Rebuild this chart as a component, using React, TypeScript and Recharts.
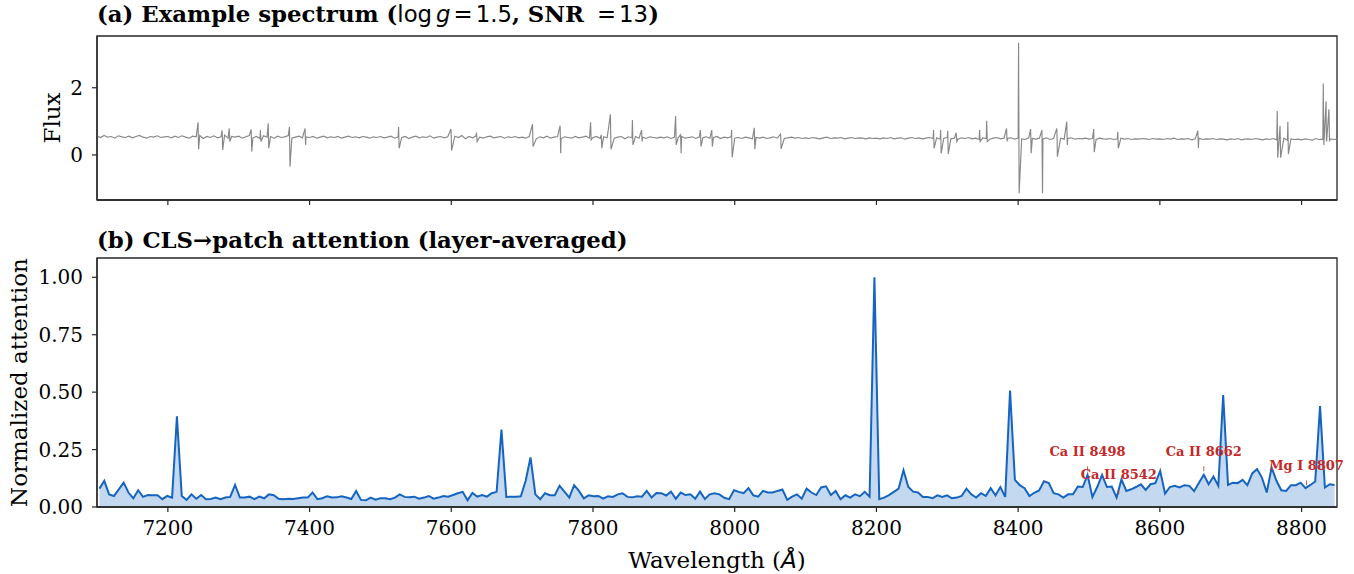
import React from "react";
import {
  LineChart,
  Line,
  AreaChart,
  Area,
  XAxis,
  YAxis,
  ReferenceArea,
  ReferenceDot,
} from "recharts";

const WAVE_MIN = 7100;
const WAVE_MAX = 8850;
const WAVE_TICKS = [7200, 7400, 7600, 7800, 8000, 8200, 8400, 8600, 8800];

// (a) flux, one sample every 5 Å from 7100
const FLUX_STEP = 5;
const FLUX = [
  0.56, 0.52, 0.58, 0.53, 0.55, 0.5, 0.57, 0.54, 0.52, 0.56, 0.51, 0.55, 0.58, 0.53, 0.5, 0.55, 0.53, 0.57, 0.52, 0.54,
  0.55, 0.51, 0.56, 0.52, 0.57, 0.53, 0.5, 0.56, 0.54, 0.58, 0.49, 0.55, 0.52, 0.57, 0.51, 0.54, 0.59, 0.5, 0.55, 0.53,
  0.56, 0.5, 0.54, 0.58, 0.51, 0.55, 0.49, 0.57, 0.53, 0.55, 0.5, 0.56, 0.52, 0.54, 0.58, 0.5, 0.53, 0.56, 0.51, 0.54,
  0.52, 0.55, 0.5, 0.53, 0.56, 0.51, 0.54, 0.52, 0.55, 0.5, 0.53, 0.56, 0.52, 0.54, 0.51, 0.55, 0.53, 0.5, 0.54, 0.52,
  0.55, 0.51, 0.53, 0.56, 0.5, 0.54, 0.52, 0.55, 0.49, 0.53, 0.56, 0.51, 0.54, 0.52, 0.57, 0.5, 0.53, 0.55, 0.51, 0.54,
  0.5, 0.56, 0.52, 0.58, 0.48, 0.55, 0.51, 0.57, 0.53, 0.5, 0.54, 0.56, 0.51, 0.53, 0.55, 0.5, 0.54, 0.52, 0.55, 0.51,
  0.53, 0.5, 0.55, 0.52, 0.48, 0.54, 0.51, 0.56, 0.5, 0.53, 0.55, 0.49, 0.54, 0.52, 0.5, 0.55, 0.51, 0.53, 0.56, 0.5,
  0.52, 0.55, 0.49, 0.54, 0.51, 0.56, 0.5, 0.53, 0.55, 0.48, 0.54, 0.51, 0.55, 0.5, 0.53, 0.49, 0.54, 0.52, 0.5, 0.53,
  0.51, 0.54, 0.49, 0.53, 0.51, 0.55, 0.5, 0.52, 0.54, 0.49, 0.53, 0.51, 0.54, 0.5, 0.52, 0.55, 0.49, 0.53, 0.51, 0.54,
  0.5, 0.52, 0.49, 0.53, 0.51, 0.48, 0.52, 0.5, 0.53, 0.49, 0.51, 0.54, 0.5, 0.52, 0.49, 0.51, 0.53, 0.5, 0.52, 0.49,
  0.51, 0.49, 0.52, 0.5, 0.48, 0.51, 0.53, 0.49, 0.51, 0.5, 0.52, 0.48, 0.5, 0.52, 0.49, 0.51, 0.5, 0.48, 0.51, 0.49,
  0.5, 0.48, 0.51, 0.49, 0.52, 0.48, 0.5, 0.51, 0.47, 0.5, 0.52, 0.49, 0.51, 0.48, 0.5, 0.52, 0.49, 0.51, 0.47, 0.5,
  0.52, 0.48, 0.5, 0.47, 0.51, 0.49, 0.52, 0.48, 0.5, 0.46, 0.51, 0.49, 0.47, 0.5, 0.52, 0.48, 0.5, 0.49, 0.51, 0.47,
  0.5, 0.48, 0.46, 0.51, 0.49, 0.47, 0.5, 0.48, 0.51, 0.46, 0.49, 0.48, 0.5, 0.47, 0.49, 0.51, 0.47, 0.49, 0.48, 0.5,
  0.47, 0.49, 0.46, 0.5, 0.48, 0.47, 0.49, 0.46, 0.48, 0.5, 0.47, 0.49, 0.46, 0.48, 0.47, 0.49, 0.48, 0.46, 0.49, 0.47,
  0.48, 0.46, 0.49, 0.47, 0.5, 0.46, 0.48, 0.47, 0.49, 0.45, 0.48, 0.5, 0.46, 0.48, 0.47, 0.49, 0.46, 0.48, 0.47, 0.45,
  0.48, 0.46, 0.49, 0.45, 0.47, 0.48, 0.46, 0.49, 0.47, 0.45, 0.48, 0.46, 0.49, 0.45, 0.47, 0.5, 0.44, 0.48, 0.46, 0.47,
  0.45, 0.48, 0.46, 0.44, 0.49, 0.46, 0.47, 0.45, 0.48, 0.46, 0.47,
];

// single-pixel spikes (sky residuals / bad pixels): wavelength, top, bottom
const SPIKE_WAVE = [
  7243, 7277, 7287, 7318, 7331, 7342, 7372, 7394, 7526, 7600, 7636, 7715, 7754, 7797, 7812, 7825,
  7856, 7869, 7917, 7924, 7952, 7968, 7996, 8028, 8065, 8281, 8291, 8301, 8313, 8346, 8356, 8384,
  8401, 8418, 8434, 8455, 8469, 8507, 8541, 8654, 8766, 8770, 8781, 8831, 8835, 8839,
];
const SPIKE_TOP = [
  0.97, 0.73, 0.79, 0.76, 0.74, 0.94, 0.84, 0.79, 0.84, 0.77, 0.67, 0.91, 0.87, 0.97, 0.6, 1.21,
  1.04, 0.74, 1.16, 0.6, 0.74, 0.74, 0.74, 0.81, 0.62, 0.74, 0.74, 0.72, 0.66, 0.74, 1.02, 0.79,
  3.34, 0.77, 0.74, 0.79, 0.99, 0.77, 0.69, 0.72, 1.31, 0.87, 0.99, 2.13, 1.6, 1.36,
];
const SPIKE_BOTTOM = [
  0.17, 0.15, 0.4, 0.1, 0.4, 0.2, -0.35, 0.3, 0.2, 0.13, 0.4, 0.25, 0.05, 0.45, 0.2, 0.17,
  0.3, 0.4, 0.3, 0.05, 0.25, 0.25, -0.07, 0.17, 0.18, 0.2, 0.05, 0.03, 0.4, 0.4, 0.4, 0.4,
  -1.14, 0.05, -1.14, -0.05, 0.3, 0.08, 0.2, 0.2, -0.08, -0.08, 0.03, 0.3, 0.4, 0.4,
];

// (b) layer-averaged CLS attention, 256 patches over the range
const N_PATCH = 256;
const ATTENTION = [
  0.08, 0.114, 0.055, 0.048, 0.077, 0.106, 0.063, 0.038, 0.073, 0.044,
  0.052, 0.051, 0.051, 0.034, 0.048, 0.041, 0.395, 0.048, 0.031, 0.055,
  0.036, 0.052, 0.034, 0.035, 0.041, 0.034, 0.041, 0.044, 0.096, 0.041,
  0.041, 0.045, 0.034, 0.045, 0.038, 0.055, 0.051, 0.036, 0.034, 0.036,
  0.035, 0.038, 0.041, 0.041, 0.063, 0.034, 0.038, 0.047, 0.041, 0.042,
  0.047, 0.041, 0.035, 0.07, 0.031, 0.029, 0.041, 0.032, 0.038, 0.038,
  0.034, 0.041, 0.055, 0.044, 0.042, 0.045, 0.036, 0.041, 0.048, 0.036,
  0.041, 0.048, 0.045, 0.052, 0.06, 0.066, 0.029, 0.061, 0.045, 0.052,
  0.045, 0.06, 0.066, 0.337, 0.044, 0.045, 0.045, 0.047, 0.114, 0.216,
  0.055, 0.034, 0.06, 0.051, 0.051, 0.092, 0.067, 0.041, 0.095, 0.07,
  0.038, 0.051, 0.047, 0.048, 0.036, 0.047, 0.044, 0.055, 0.06, 0.044,
  0.042, 0.047, 0.045, 0.07, 0.041, 0.061, 0.06, 0.05, 0.067, 0.036,
  0.063, 0.052, 0.055, 0.036, 0.067, 0.035, 0.055, 0.06, 0.055, 0.04,
  0.034, 0.073, 0.066, 0.06, 0.082, 0.051, 0.045, 0.07, 0.063, 0.063,
  0.07, 0.076, 0.031, 0.045, 0.055, 0.036, 0.08, 0.063, 0.052, 0.085,
  0.09, 0.052, 0.07, 0.034, 0.051, 0.041, 0.055, 0.047, 0.066, 0.045,
  1.0, 0.034, 0.041, 0.052, 0.066, 0.08, 0.16, 0.087, 0.067, 0.063,
  0.044, 0.044, 0.038, 0.051, 0.044, 0.051, 0.038, 0.041, 0.048, 0.08,
  0.055, 0.041, 0.06, 0.048, 0.082, 0.051, 0.087, 0.044, 0.507, 0.118,
  0.095, 0.082, 0.048, 0.062, 0.072, 0.112, 0.104, 0.06, 0.055, 0.041,
  0.055, 0.055, 0.089, 0.087, 0.14, 0.044, 0.087, 0.14, 0.087, 0.089,
  0.041, 0.12, 0.07, 0.077, 0.087, 0.099, 0.074, 0.099, 0.104, 0.157,
  0.058, 0.087, 0.092, 0.085, 0.095, 0.092, 0.069, 0.106, 0.14, 0.099,
  0.133, 0.092, 0.487, 0.096, 0.106, 0.104, 0.118, 0.095, 0.146, 0.165,
  0.128, 0.063, 0.172, 0.114, 0.073, 0.07, 0.095, 0.095, 0.106, 0.082,
  0.096, 0.111, 0.439, 0.085, 0.099, 0.096,
];
const ATT_TICKS = [0, 0.25, 0.5, 0.75, 1.0];

// marked absorption lines
const LINE_NAMES = ["Ca II 8498", "Ca II 8542", "Ca II 8662", "Mg I 8807"];
const LINE_WAVE = [8498, 8542, 8662, 8807];
const LINE_TEXT_Y = [0.243, 0.142, 0.243, 0.181];

const SERIF = "DejaVu Serif";
const SANS = "DejaVu Sans";
const SPINE = "#262626";
const BLUE = "#1565c0";
const RED = "#c62828";
const FLUX_DOMAIN = [-1.34, 3.54];
const ATT_DOMAIN = [0, 1.084];
const LABEL_SIZE = 23;
const TITLE_SIZE = 22.8;

const spectrum = FLUX.map((f, i) => ({ w: WAVE_MIN + i * FLUX_STEP, f }));
SPIKE_WAVE.forEach((w, i) => {
  spectrum.push({ w: w - 0.4, f: SPIKE_TOP[i] }, { w: w + 0.4, f: SPIKE_BOTTOM[i] });
});
spectrum.sort((a, b) => a.w - b.w);

const patchWidth = (WAVE_MAX - WAVE_MIN) / N_PATCH;
const attention = ATTENTION.map((a, i) => ({ w: WAVE_MIN + (i + 0.5) * patchWidth, a }));

const tickStyle = { fontSize: 20, fontFamily: SERIF, fill: "#000" };

function RotatedLabel({ viewBox, text, baseX }: any) {
  const cy = viewBox.y + viewBox.height / 2;
  return (
    <text
      x={baseX}
      y={cy}
      transform={`rotate(-90 ${baseX} ${cy})`}
      textAnchor="middle"
      fontFamily={SERIF}
      fontSize={LABEL_SIZE}
      fill="#000"
    >
      {text}
    </text>
  );
}

function WaveLabel({ viewBox }: any) {
  return (
    <text
      x={viewBox.x + viewBox.width / 2}
      y={viewBox.y + 61}
      textAnchor="middle"
      fontFamily={SERIF}
      fontSize={LABEL_SIZE}
      fill="#000"
    >
      Wavelength (<tspan fontFamily={SANS} fontStyle="italic">Å</tspan>)
    </text>
  );
}

function LineMark({ cx, cy, text }: any) {
  return (
    <g>
      <text x={cx} y={cy + 5} textAnchor="middle" fontFamily={SERIF} fontWeight="bold" fontSize={13} fill={RED}>
        {text}
      </text>
      <line x1={cx} x2={cx} y1={cy + 15} y2={cy + 20} stroke={RED} strokeWidth={0.8} />
    </g>
  );
}

export default function App() {
  return (
    <div style={{ position: "relative", width: 1354, height: 574, background: "#fff" }}>
      <style>{"body{margin:0}"}</style>

      <div style={{ position: "absolute", left: 0, top: 0 }}>
        <LineChart width={1354} height={215} data={spectrum} margin={{ top: 36, right: 17, bottom: 0, left: 0 }}>
          <XAxis
            dataKey="w"
            type="number"
            domain={[WAVE_MIN, WAVE_MAX]}
            ticks={WAVE_TICKS}
            allowDataOverflow
            height={15}
            tick={() => null}
            tickSize={5}
            tickLine={{ stroke: SPINE, strokeWidth: 1.2 }}
            axisLine={{ stroke: SPINE, strokeWidth: 1.3 }}
          />
          <YAxis
            type="number"
            domain={FLUX_DOMAIN}
            ticks={[0, 2]}
            allowDataOverflow
            width={97}
            tick={tickStyle}
            tickSize={5}
            tickMargin={9}
            tickLine={{ stroke: SPINE, strokeWidth: 1.2 }}
            axisLine={{ stroke: SPINE, strokeWidth: 1.3 }}
            label={(p: any) => <RotatedLabel viewBox={p.viewBox} text="Flux" baseX={60} />}
          />
          <Line
            type="linear"
            dataKey="f"
            stroke="#888888"
            strokeWidth={1.15}
            dot={false}
            isAnimationActive={false}
          />
          <ReferenceArea
            x1={WAVE_MIN}
            x2={WAVE_MAX}
            y1={FLUX_DOMAIN[0]}
            y2={FLUX_DOMAIN[1]}
            fill="none"
            stroke={SPINE}
            strokeWidth={1.3}
            ifOverflow="visible"
          />
        </LineChart>
      </div>

      <div style={{ position: "absolute", left: 0, top: 215 }}>
        <AreaChart width={1354} height={359} data={attention} margin={{ top: 43, right: 17, bottom: 0, left: 0 }}>
          <XAxis
            dataKey="w"
            type="number"
            domain={[WAVE_MIN, WAVE_MAX]}
            ticks={WAVE_TICKS}
            allowDataOverflow
            height={67}
            tick={tickStyle}
            tickSize={5}
            tickMargin={9}
            tickLine={{ stroke: SPINE, strokeWidth: 1.2 }}
            axisLine={{ stroke: SPINE, strokeWidth: 1.3 }}
            label={(p: any) => <WaveLabel viewBox={p.viewBox} />}
          />
          <YAxis
            type="number"
            domain={ATT_DOMAIN}
            ticks={ATT_TICKS}
            allowDataOverflow
            width={97}
            tick={tickStyle}
            tickFormatter={(v: number) => v.toFixed(2)}
            tickSize={5}
            tickMargin={9}
            tickLine={{ stroke: SPINE, strokeWidth: 1.2 }}
            axisLine={{ stroke: SPINE, strokeWidth: 1.3 }}
            label={(p: any) => <RotatedLabel viewBox={p.viewBox} text="Normalized attention" baseX={26.5} />}
          />
          <Area
            type="linear"
            dataKey="a"
            stroke={BLUE}
            strokeWidth={2}
            fill={BLUE}
            fillOpacity={0.25}
            baseValue={0}
            dot={false}
            isAnimationActive={false}
          />
          {LINE_WAVE.map((w, i) => (
            <ReferenceDot
              key={LINE_NAMES[i]}
              x={w}
              y={LINE_TEXT_Y[i]}
              ifOverflow="visible"
              shape={(p: any) => <LineMark cx={p.cx} cy={p.cy} text={LINE_NAMES[i]} />}
            />
          ))}
          <ReferenceArea
            x1={WAVE_MIN}
            x2={WAVE_MAX}
            y1={ATT_DOMAIN[0]}
            y2={ATT_DOMAIN[1]}
            fill="none"
            stroke={SPINE}
            strokeWidth={1.3}
            ifOverflow="visible"
          />
        </AreaChart>
      </div>

      <svg
        width={1354}
        height={574}
        style={{ position: "absolute", left: 0, top: 0, pointerEvents: "none" }}
      >
        <text x={97} y={22} fontSize={TITLE_SIZE} fill="#000" style={{ whiteSpace: "pre" }}>
          <tspan fontFamily={SERIF} fontWeight="bold">(a) Example spectrum (</tspan>
          <tspan fontFamily={SANS}>log</tspan>
          <tspan fontFamily={SANS} fontStyle="italic" dx={4}>g</tspan>
          <tspan fontFamily={SANS} dx={3}>=</tspan>
          <tspan fontFamily={SANS} dx={3}>1.5</tspan>
          <tspan fontFamily={SERIF} fontWeight="bold">, SNR </tspan>
          <tspan fontFamily={SANS} dx={5}>=</tspan>
          <tspan fontFamily={SANS} dx={3}>13</tspan>
          <tspan fontFamily={SERIF} fontWeight="bold">)</tspan>
        </text>
        <text x={97} y={248} fontSize={TITLE_SIZE} fill="#000" fontFamily={SERIF} fontWeight="bold">
          (b) CLS→patch attention (layer-averaged)
        </text>
      </svg>
    </div>
  );
}
